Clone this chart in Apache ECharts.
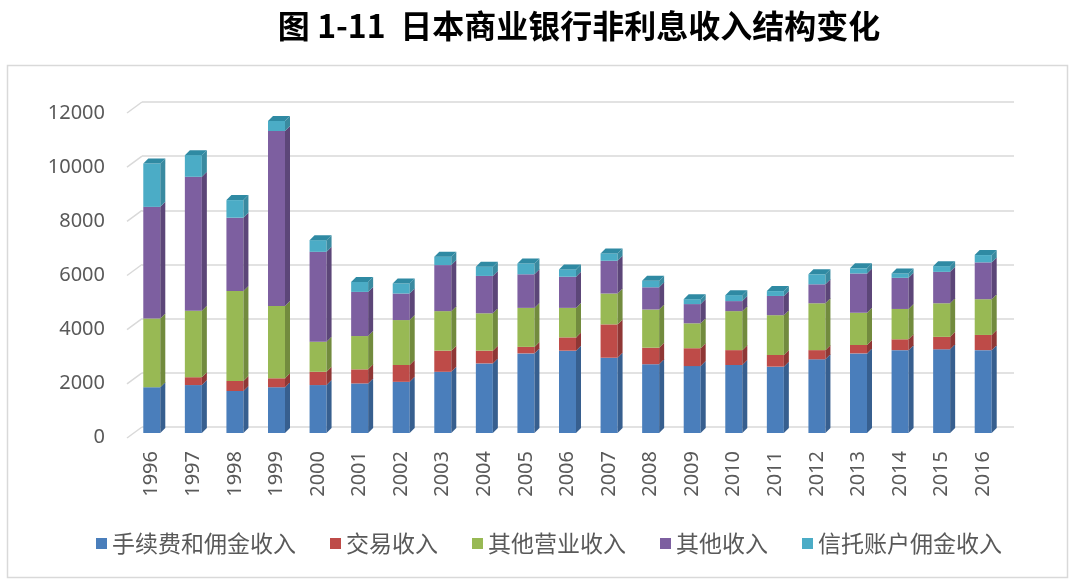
<!DOCTYPE html>
<html>
<head>
<meta charset="utf-8">
<script src="https://cdn.jsdelivr.net/npm/echarts@6/dist/echarts.min.js"></script>
<style>
html,body{margin:0;padding:0;background:#fff;}
#chart{width:1080px;height:584px;}
</style>
</head>
<body>
<div id="chart"></div>
<script>
const titleText = '图 1-11  日本商业银行非利息收入结构变化';
const years = ['1996','1997','1998','1999','2000','2001','2002','2003','2004','2005','2006','2007','2008','2009','2010','2011','2012','2013','2014','2015','2016'];
const seriesNames = ['手续费和佣金收入','交易收入','其他营业收入','其他收入','信托账户佣金收入'];
const feeCommission   = [1690,1770,1550,1690,1770,1830,1890,2260,2570,2940,3040,2780,2540,2470,2510,2450,2720,2940,3060,3090,3060];
const trading         = [0,290,370,330,490,520,620,780,470,240,490,1230,610,660,550,430,340,310,400,460,560];
const otherOperating  = [2540,2450,3320,2670,1110,1230,1660,1460,1380,1440,1090,1140,1410,920,1440,1470,1730,1190,1120,1240,1320];
const otherIncome     = [4120,4950,2710,6460,3320,1630,980,1700,1380,1240,1150,1210,820,710,370,710,700,1450,1150,1160,1360];
const trustCommission = [1600,800,650,370,430,370,370,310,340,400,270,270,240,180,220,180,370,190,160,210,270];
const yTicks = [0,2000,4000,6000,8000,10000,12000];

const frontColors = ['#4a7ebb','#be4b48','#98b954','#7d5fa0','#4bacc6'];
const sideColors  = ['#375f8f','#8f3735','#728b3e','#5c4678','#3a8aa0'];
const capColor = '#2f8aa3';

const allSeries = [feeCommission, trading, otherOperating, otherIncome, trustCommission];

function makeRender(front, side, cap) {
  return function (params, api) {
    const i = api.value(0);
    const pb = api.coord([i, api.value(1)]);
    const pt = api.coord([i, api.value(2)]);
    const w = 17, dx = 5, dy = 5;
    const x0 = pb[0] - w / 2;
    const yb = pb[1], yt = pt[1];
    const children = [
      {type: 'rect', shape: {x: x0, y: yt, width: w, height: yb - yt}, style: {fill: front}},
      {type: 'polygon', shape: {points: [[x0 + w, yt], [x0 + w + dx, yt - dy], [x0 + w + dx, yb - dy], [x0 + w, yb]]}, style: {fill: side}}
    ];
    if (cap) {
      children.push({type: 'polygon', shape: {points: [[x0, yt], [x0 + dx, yt - dy], [x0 + w + dx, yt - dy], [x0 + w, yt]]}, style: {fill: cap}});
    }
    return {type: 'group', children: children};
  };
}

const base = years.map(() => 0);
const barSeries = allSeries.map((vals, s) => {
  const data = vals.map((v, i) => {
    const item = [i, base[i], base[i] + v];
    base[i] += v;
    return item;
  });
  return {
    name: seriesNames[s],
    type: 'custom',
    xAxisIndex: 0,
    yAxisIndex: 0,
    renderItem: makeRender(frontColors[s], sideColors[s], s === allSeries.length - 1 ? capColor : null),
    itemStyle: {color: frontColors[s]},
    encode: {x: 0, y: [1, 2]},
    data: data,
    z: 3
  };
});

const slantSeries = {
  type: 'custom',
  xAxisIndex: 1,
  yAxisIndex: 1,
  silent: true,
  renderItem: function (params, api) {
    const p = api.coord([0, api.value(1)]);
    return {type: 'line', shape: {x1: p[0] - 15, y1: p[1] + 11, x2: p[0], y2: p[1]}, style: {stroke: '#d9d9d9', lineWidth: 1.5}};
  },
  data: yTicks.map(v => [0, v]),
  z: 1
};

const chart = echarts.init(document.getElementById('chart'), null, {renderer: 'canvas'});
chart.setOption({
  animation: false,
  backgroundColor: '#ffffff',
  graphic: [
    {type: 'rect', shape: {x: 7.5, y: 65.5, width: 1060, height: 512}, style: {fill: 'none', stroke: '#d9d9d9', lineWidth: 1.5}, z: -1},
    {type: 'text', x: 579, y: 26, style: {text: titleText, fill: '#000', font: 'bold 32px "Noto Sans CJK SC"', textAlign: 'center', textVerticalAlign: 'middle'}}
  ],
  legend: {
    data: seriesNames,
    left: 91,
    top: 527,
    icon: 'rect',
    itemWidth: 11,
    itemHeight: 11,
    itemGap: 34,
    textStyle: {fontSize: 23, color: '#595959', fontFamily: '"Noto Sans CJK SC"'}
  },
  grid: [
    {left: 131, right: 76, top: 108, bottom: 151},
    {left: 142, right: 66, top: 102, bottom: 157},
    {left: 131, right: 76, top: 113, bottom: 147}
  ],
  xAxis: [
    {
      type: 'category', gridIndex: 0, data: years,
      axisLine: {show: false}, axisTick: {show: false},
      axisLabel: {rotate: 90, margin: 18, fontSize: 20, color: '#595959', fontFamily: '"Noto Sans"'}
    },
    {type: 'value', gridIndex: 1, min: 0, max: 1, show: false},
    {type: 'value', gridIndex: 2, min: 0, max: 1, show: false}
  ],
  yAxis: [
    {
      type: 'value', gridIndex: 0, min: 0, max: 12000, interval: 2000, show: false
    },
    {
      type: 'value', gridIndex: 1, min: 0, max: 12000, interval: 2000,
      axisLine: {show: false}, axisTick: {show: false}, axisLabel: {show: false},
      splitLine: {lineStyle: {color: '#d9d9d9', width: 1.5}}
    },
    {
      type: 'value', gridIndex: 2, min: 0, max: 12000, interval: 2000,
      axisLine: {show: false}, axisTick: {show: false}, splitLine: {show: false},
      axisLabel: {fontSize: 20, color: '#595959', margin: 26, fontFamily: '"Noto Sans"', formatter: function (v) { return String(v); }}
    }
  ],
  series: barSeries.concat([slantSeries])
});
</script>
</body>
</html>
